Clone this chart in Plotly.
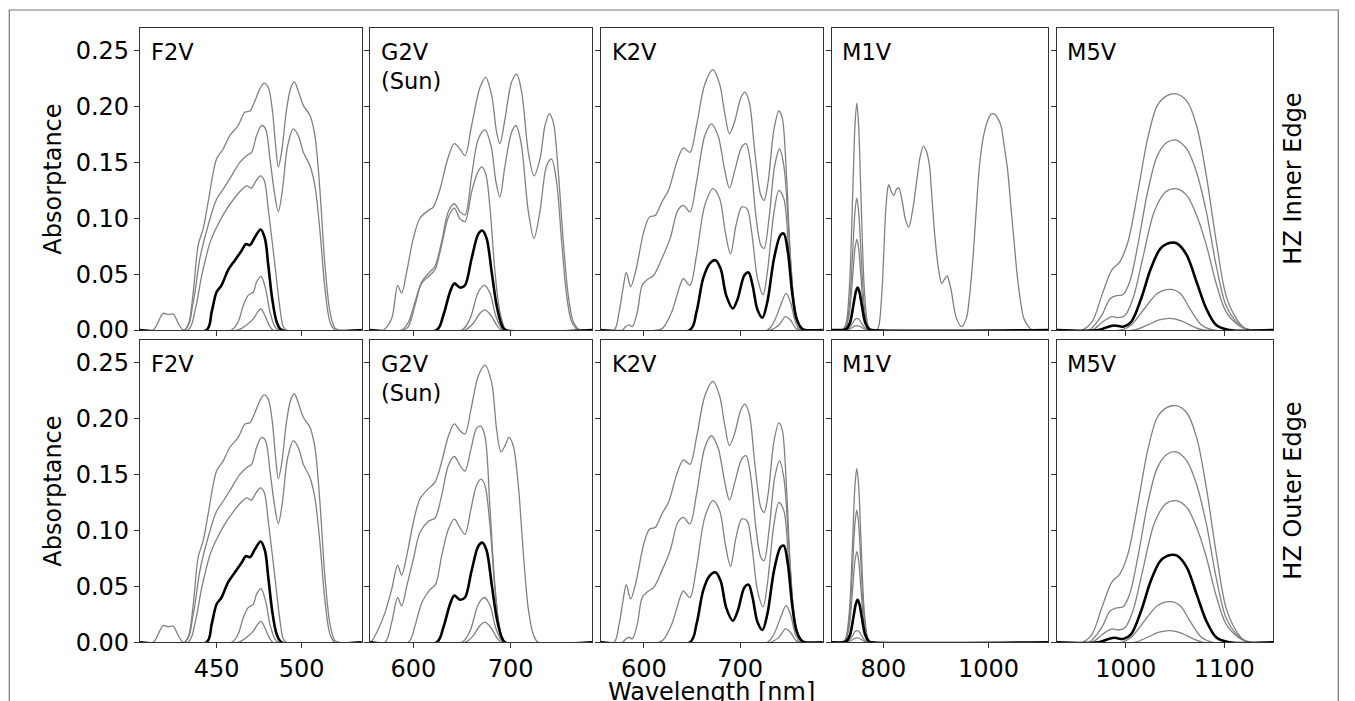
import plotly.graph_objects as go

# ---------------- data (wavelength nm, absorptance) ----------------
F2V_A = [(405,0),(412.7,0),(418.6,0.0149),(421.5,0.0138),(424.5,0.0143),(427.5,0.006),(430.4,0),(433.3,0.0045),
         (436.3,0.034),(439.2,0.076),(442.2,0.091),(445.1,0.115),(450,0.153),(453.9,0.162),(457.8,0.174),
         (462.7,0.183),(466.7,0.195),(469.6,0.196),(472.5,0.205),(475.5,0.216),(478,0.221),(480.4,0.217),
         (482.7,0.198),(484.7,0.165),(486.3,0.146),(488.2,0.159),(491.2,0.198),(493.7,0.217),(495.7,0.222),
         (498,0.214),(501,0.201),(504.9,0.192),(507.8,0.174),(510.8,0.124),(513.7,0.058),(516.7,0.016),
         (519.6,0.0015),(522.5,0),(535.3,0)]
F2V_B = [(405,0),(431.4,0),(436.3,0.025),(440.2,0.064),(445.1,0.094),(450,0.117),(453.9,0.126),(458.8,0.138),
         (463.7,0.150),(467.6,0.156),(470.6,0.159),(473.5,0.174),(476.5,0.183),(478.8,0.180),(481.4,0.153),
         (483.9,0.124),(486.3,0.106),(488.6,0.124),(491.8,0.165),(495.1,0.180),(498,0.174),(501,0.159),
         (504.9,0.147),(507.8,0.129),(510.8,0.088),(513.7,0.037),(516.7,0.007),(519.6,0),(535.3,0)]
F2V_C = [(405,0),(433.3,0),(437.3,0.017),(441.2,0.048),(446.1,0.078),(450,0.092),(455,0.106),(460,0.117),
         (465,0.126),(467.6,0.129),(470.4,0.127),(473,0.133),(475.7,0.138),(478,0.134),(480.4,0.108),
         (484.3,0.058),(487.3,0.019),(489.2,0.003),(491,0),(535.3,0)]
F2V_D = [(405,0),(444.1,0),(447.1,0.016),(450,0.034),(452.9,0.040),(456.9,0.054),(460.8,0.0625),(464.7,0.071),
         (467.3,0.077),(469.6,0.076),(472.5,0.083),(475.9,0.090),(478.4,0.082),(480.4,0.058),(482.7,0.028),
         (485.3,0.0074),(488.2,0),(535.3,0)]
F2V_E = [(405,0),(458.8,0),(462.7,0.0074),(465.7,0.022),(468.6,0.031),(471.6,0.034),(473.5,0.043),(476.1,0.048),
         (478.8,0.037),(481.4,0.016),(484.3,0.003),(486.3,0),(535.3,0)]
F2V_F = [(405,0),(462.7,0),(467.6,0.0045),(471.6,0.010),(474.1,0.016),(476.1,0.019),(478.4,0.013),(481.4,0.003),
         (483.3,0),(535.3,0)]

G2V_IN_A = [(555.5,0),(569.2,0),(577.7,0.010),(583.9,0.040),(588,0.033),(593.2,0.052),(600,0.082),(606.8,0.100),
            (615.4,0.107),(620.5,0.110),(627.4,0.126),(635.3,0.153),(642.1,0.1667),(647.9,0.162),(653.1,0.156),
            (659.9,0.183),(668.5,0.217),(674.3,0.226),(680.5,0.210),(685.6,0.177),(689,0.1667),(694.2,0.189),
            (701,0.222),(706.2,0.229),(711.3,0.213),(718.2,0.159),(724,0.138),(730.1,0.153),(735.3,0.183),
            (739.7,0.1935),(743.8,0.186),(749,0.141),(754.1,0.079),(759.2,0.031),(764.4,0.0074),(771.2,0),(783.9,0)]
G2V_IN_B = [(555.5,0),(588,0),(594.9,0.007),(601.7,0.025),(608.6,0.043),(617.1,0.052),(622.3,0.057),(629.1,0.079),
            (636,0.106),(642.1,0.113),(647.9,0.106),(653.1,0.103),(659.9,0.138),(666.8,0.171),(673.6,0.179),
            (679.8,0.165),(685,0.132),(689,0.119),(694.2,0.147),(701,0.177),(705.5,0.183),(710.6,0.168),
            (718.2,0.106),(724,0.082),(730.1,0.106),(737,0.147),(742.1,0.153),(747.3,0.132),(752.4,0.079),
            (757.5,0.031),(762.7,0.0074),(769.5,0),(783.9,0)]
G2V_IN_C = [(555.5,0),(590,0),(594.9,0.003),(601.7,0.022),(608.6,0.042),(617.1,0.049),(622.3,0.054),(629.1,0.076),
            (636,0.101),(642.1,0.109),(647.9,0.0997),(653.1,0.097),(659.9,0.1235),(666.1,0.141),(670.2,0.146),
            (674.3,0.140),(678.8,0.109),(683.9,0.052),(689,0.016),(694.2,0.0015),(697.6,0),(783.9,0)]
G2V_D = [(555.5,0),(624,0),(630.8,0.013),(637.7,0.034),(642.1,0.0417),(647.9,0.038),(653.1,0.040),(659.9,0.064),
         (666.8,0.086),(670.9,0.089),(675.3,0.082),(680.5,0.052),(685.6,0.022),(690.8,0.0045),(694.2,0),(783.9,0)]
G2V_E = [(555.5,0),(649.7,0),(658.2,0.010),(666.8,0.034),(673,0.040),(678.8,0.033),(684.6,0.013),(690.8,0.0015),
         (694.2,0),(783.9,0)]
G2V_F = [(555.5,0),(653.1,0),(661.6,0.006),(668.5,0.015),(673.6,0.018),(679.8,0.013),(685.6,0.0045),(690.8,0),
         (783.9,0)]
G2V_OUT_A = [(555.5,0),(557.2,0.001),(564,0.0116),(570.9,0.0265),(577.7,0.047),(583.9,0.069),(588,0.060),
             (593.2,0.077),(600,0.107),(606.8,0.128),(615.4,0.137),(622.3,0.143),(629.1,0.161),(636,0.184),
             (642.1,0.195),(647.9,0.189),(653.1,0.186),(659.2,0.208),(666.8,0.238),(673.6,0.2476),(680.5,0.232),
             (685.6,0.190),(690.1,0.170),(694.2,0.1755),(698.3,0.183),(702.7,0.1755),(707.9,0.140),(713,0.080),
             (718.2,0.0295),(723.3,0.007),(728.4,0),(783.9,0)]
G2V_OUT_B = [(555.5,0),(570.9,0),(577.7,0.0176),(583.9,0.040),(588,0.0325),(593.2,0.050),(600,0.074),(606.8,0.098),
             (615.4,0.108),(622.3,0.111),(629.1,0.131),(636,0.158),(642.1,0.166),(647.9,0.158),(653.1,0.153),
             (659.2,0.1725),(664.9,0.191),(669.2,0.193),(673.6,0.184),(678.8,0.119),(683.9,0.050),(689,0.0116),
             (694.2,0),(783.9,0)]
G2V_OUT_C = [(555.5,0),(594.9,0),(601.7,0.0146),(608.6,0.035),(617.1,0.047),(623,0.052),(629.1,0.077),(636,0.101),
             (642.1,0.110),(647.9,0.1025),(653.1,0.0965),(659.2,0.119),(664.9,0.140),(669.5,0.1457),(673.6,0.140),
             (678.8,0.104),(683.9,0.047),(689,0.0116),(694.2,0),(783.9,0)]

K2V_A = [(555.2,0),(569.2,0),(574.3,0.016),(578.4,0.037),(581.8,0.0515),(586.3,0.0387),(591.4,0.052),(600,0.088),
         (605.8,0.101),(612,0.1027),(618.8,0.1146),(625.7,0.125),(634.2,0.150),(641.1,0.163),(647.9,0.159),
         (654.8,0.183),(663.4,0.220),(671.9,0.233),(678.8,0.220),(683.9,0.195),(689,0.1756),(694.2,0.186),
         (701,0.208),(705.1,0.2128),(709.6,0.204),(715.4,0.159),(721.6,0.1205),(725,0.116),(729.1,0.132),
         (735.3,0.180),(740.4,0.196),(743.8,0.190),(748.3,0.138),(752.4,0.064),(757.5,0.0164),(762.7,0.003),
         (769.5,0),(785.9,0)]
K2V_B = [(555.2,0),(577.7,0),(581.2,0.003),(584.6,0.0045),(588,0.003),(593.2,0.016),(598.3,0.040),(603.4,0.045),
         (610.3,0.049),(618.8,0.064),(627.4,0.082),(635.3,0.107),(641.1,0.1116),(647.9,0.1057),(654.8,0.1324),
         (663.4,0.174),(670.2,0.1845),(677.1,0.174),(683.9,0.144),(689,0.127),(694.9,0.144),(701.7,0.1637),
         (706.2,0.1667),(711.3,0.147),(716.4,0.1027),(721.6,0.076),(725,0.073),(730.1,0.0997),(736,0.147),
         (741.1,0.162),(745.5,0.147),(750.7,0.088),(755.8,0.028),(761,0.006),(767.8,0),(785.9,0)]
K2V_C = [(555.2,0),(615.4,0),(620,0.002),(629.1,0.0164),(637.7,0.040),(641.1,0.046),(647.9,0.040),(654.8,0.067),
         (663.4,0.1116),(671.9,0.1265),(678.8,0.1176),(684.6,0.088),(690.1,0.068),(695.9,0.094),(701.7,0.110),
         (707.2,0.1086),(712,0.088),(718.2,0.046),(724,0.0317),(728.4,0.052),(735.3,0.1057),(740.4,0.125),
         (745.5,0.1176),(750.7,0.070),(755.8,0.022),(761,0.0045),(767,0),(785.9,0)]
K2V_D = [(555.2,0),(647.9,0),(654.8,0.0164),(661.6,0.046),(668.5,0.0595),(674.3,0.0625),(679.8,0.055),(685.6,0.031),
         (692.5,0.0193),(697.6,0.028),(704.5,0.049),(708.9,0.0515),(713,0.040),(718.2,0.0179),(723.3,0.011),
         (728.4,0.0253),(735.3,0.064),(742.1,0.085),(745.5,0.0863),(749.7,0.070),(754.1,0.034),(758.6,0.0104),
         (764.4,0.001),(767,0),(785.9,0)]
K2V_E = [(555.2,0),(728.4,0),(735.3,0.0074),(742.1,0.022),(747.9,0.0327),(752.4,0.025),(757.5,0.0074),(762.7,0),
         (785.9,0)]
K2V_F = [(555.2,0),(731.8,0),(740.4,0.0045),(747.3,0.012),(752.4,0.009),(757.5,0.002),(761,0),(785.9,0)]

M1V_IN_A = [(701.7,0),(721,0),(728,0.004),(735,0.035),(742,0.126),(746,0.183),(749.5,0.203),(753,0.183),(757,0.126),
            (764,0.035),(771,0.004),(777,0),(788,0),(791.8,0.0045),(798,0.040),(804.4,0.1057),(808.8,0.128),
            (810.7,0.130),(815,0.124),(820,0.1205),(825,0.126),(829.5,0.127),(836,0.115),(842,0.099),(848.3,0.092),
            (856,0.108),(864,0.135),(870,0.155),(876.5,0.1646),(882,0.160),(887.8,0.147),(893,0.115),(898.4,0.082),
            (905,0.055),(911,0.0417),(916,0.045),(921.6,0.0485),(925.5,0.043),(929.8,0.034),(934.5,0.020),
            (939.2,0.0104),(948.6,0.003),(958,0.0104),(964,0.030),(970.5,0.064),(976.5,0.105),(983,0.147),
            (990,0.172),(998.7,0.1875),(1005,0.193),(1011.3,0.1935),(1017,0.190),(1023.8,0.183),(1030,0.165),
            (1036.4,0.144),(1042.5,0.112),(1048.9,0.079),(1055,0.048),(1061.4,0.025),(1067,0.011),(1074,0.0045),
            (1083.4,0),(1114,0)]
M1V_OUT_A = [(701.7,0),(721,0),(728,0.003),(735,0.026),(742,0.096),(746,0.140),(749.5,0.155),(753,0.140),
             (757,0.096),(764,0.026),(771,0.003),(777,0),(1114,0)]
M1V_B = [(701.7,0),(721,0),(728,0.0024),(735,0.020),(742,0.073),(746,0.106),(749.5,0.118),(753,0.106),(757,0.073),
         (764,0.020),(771,0.0024),(777,0),(1114,0)]
M1V_C = [(701.7,0),(721,0),(728,0.0016),(735,0.0138),(742,0.050),(746,0.073),(749.5,0.081),(753,0.073),(757,0.050),
         (764,0.0138),(771,0.0016),(777,0),(1114,0)]
M1V_D = [(701.7,0),(722.5,0),(729.5,0.0008),(736.5,0.0065),(743.5,0.0236),(747.5,0.034),(751,0.038),(754.5,0.034),
         (758.5,0.0236),(765.5,0.0065),(772.5,0.0008),(778.5,0),(1114,0)]
M1V_E = [(701.7,0),(722,0),(735,0.0018),(742,0.0064),(746,0.0094),(750,0.0104),(754,0.0094),(758,0.0064),
         (765,0.0018),(778,0),(1114,0)]
M1V_F = [(701.7,0),(724,0),(735,0.0007),(742,0.0025),(746,0.0036),(750,0.004),(754,0.0036),(758,0.0025),
         (765,0.0007),(776,0),(1114,0)]

M5V_A = [(930,0),(956,0),(965.9,0.0074),(975.8,0.031),(985.8,0.0536),(994,0.061),(1002.3,0.079),(1012.3,0.1235),
         (1022.2,0.171),(1032.1,0.201),(1042,0.2098),(1051.3,0.2113),(1061.9,0.205),(1071.9,0.183),(1081.8,0.138),
         (1091.7,0.080),(1101.7,0.031),(1111.6,0.011),(1120,0.002),(1127,0),(1149.7,0)]
M5V_B = [(930,0),(963,0),(965.9,0.002),(975.8,0.0134),(984.1,0.028),(990.7,0.0307),(997.4,0.0318),(1004,0.043),
         (1012.3,0.076),(1022.2,0.1235),(1032.1,0.156),(1042,0.168),(1051.3,0.170),(1061.9,0.162),(1071.9,0.141),
         (1081.8,0.1057),(1091.7,0.058),(1101.7,0.022),(1111.6,0.008),(1120,0.002),(1127,0),(1149.7,0)]
M5V_C = [(930,0),(966,0),(976.8,0.0074),(985.8,0.012),(992.4,0.011),(999,0.0128),(1007.3,0.028),(1017.2,0.064),
         (1028.8,0.1057),(1040.4,0.1235),(1051.3,0.1265),(1061.9,0.1205),(1071.9,0.1027),(1081.8,0.076),
         (1091.7,0.0417),(1101.7,0.0164),(1113.2,0.005),(1120,0.0015),(1127,0),(1149.7,0)]
M5V_D = [(930,0),(972.5,0),(982.5,0.003),(989.1,0.004),(997.4,0.003),(1005.6,0.0074),(1015.6,0.028),(1025.5,0.055),
         (1035.4,0.073),(1045.4,0.078),(1052,0.0774),(1061.9,0.067),(1071.9,0.043),(1081.8,0.019),(1091.7,0.0045),
         (1105,0),(1149.7,0)]
M5V_E = [(930,0),(995.7,0),(1005.6,0.0045),(1018.9,0.019),(1032.1,0.0327),(1045.4,0.0363),(1055.3,0.0327),
         (1065.2,0.019),(1076.8,0.0045),(1088.4,0),(1149.7,0)]
M5V_F = [(930,0),(1008.9,0),(1022.2,0.0045),(1033.8,0.009),(1045.4,0.0104),(1057,0.008),(1068.5,0.003),
         (1078.5,0),(1149.7,0)]

STAR_LABELS = ["F2V", "G2V<br>(Sun)", "K2V", "M1V", "M5V"]
ROW_LABELS = ["HZ Inner Edge", "HZ Outer Edge"]
X_RANGES = [[405, 535.3], [555.5, 783.9], [555.2, 785.9], [701.7, 1114], [930, 1149.7]]
X_DTICK = [50, 100, 100, 200, 100]
Y_RANGE = [0, 0.27]

# per panel: (gray curves, black curve)
PANELS = [
    [([F2V_A, F2V_B, F2V_C, F2V_E, F2V_F], F2V_D),
     ([G2V_IN_A, G2V_IN_B, G2V_IN_C, G2V_E, G2V_F], G2V_D),
     ([K2V_A, K2V_B, K2V_C, K2V_E, K2V_F], K2V_D),
     ([M1V_IN_A, M1V_B, M1V_C, M1V_E, M1V_F], M1V_D),
     ([M5V_A, M5V_B, M5V_C, M5V_E, M5V_F], M5V_D)],
    [([F2V_A, F2V_B, F2V_C, F2V_E, F2V_F], F2V_D),
     ([G2V_OUT_A, G2V_OUT_B, G2V_OUT_C, G2V_E, G2V_F], G2V_D),
     ([K2V_A, K2V_B, K2V_C, K2V_E, K2V_F], K2V_D),
     ([M1V_OUT_A, M1V_B, M1V_C, M1V_E, M1V_F], M1V_D),
     ([M5V_A, M5V_B, M5V_C, M5V_E, M5V_F], M5V_D)],
]

# ---------------- layout geometry (pixels) ----------------
W, H = 1355, 701
COL_PX = [(140, 361.7), (370, 592.3), (600.7, 822.7), (831.7, 1048.3), (1056.7, 1273.3)]
ROW_PX = [(28.3, 330), (340, 642.3)]


def px(xs):
    return xs / W


def py(ys):
    return 1 - ys / H


FONT = "DejaVu Sans"
FS = 24
FS_LABEL = 22.5
AXCOL = "#333333"

fig = go.Figure()
layout = dict(
    width=W, height=H, autosize=False, margin=dict(l=0, r=0, t=0, b=0, pad=0, autoexpand=False),
    paper_bgcolor="white", plot_bgcolor="white", showlegend=False,
    font=dict(family=FONT, size=FS, color="black"),
)
annotations = []

for r in range(2):
    for c in range(5):
        n = r * 5 + c + 1
        xa = "x" if n == 1 else f"x{n}"
        ya = "y" if n == 1 else f"y{n}"
        grays, black = PANELS[r][c]
        for curve in grays:
            fig.add_trace(go.Scatter(
                x=[p[0] for p in curve], y=[p[1] for p in curve], mode="lines",
                line=dict(color="#808080", width=1.3, shape="spline", smoothing=0.9),
                xaxis=xa, yaxis=ya, hoverinfo="skip"))
        fig.add_trace(go.Scatter(
            x=[p[0] for p in black], y=[p[1] for p in black], mode="lines",
            line=dict(color="black", width=2.6, shape="spline", smoothing=0.9),
            xaxis=xa, yaxis=ya, hoverinfo="skip"))

        x0, x1 = COL_PX[c]
        y0, y1 = ROW_PX[r]
        layout[f"xaxis{n}"] = dict(
            domain=[px(x0), px(x1)], anchor=ya, range=X_RANGES[c], automargin=False,
            tick0=0, dtick=X_DTICK[c], ticks="outside", ticklen=5, tickwidth=1.2, tickcolor=AXCOL,
            showticklabels=(r == 1), showgrid=False, zeroline=False,
            showline=True, linecolor=AXCOL, linewidth=1.2, mirror=True,
            tickfont=dict(family=FONT, size=FS, color="black"), fixedrange=True)
        layout[f"yaxis{n}"] = dict(
            domain=[py(y1), py(y0)], anchor=xa, range=Y_RANGE, automargin=False,
            tick0=0, dtick=0.05, tickformat=".2f", ticks="outside", ticklen=5, tickwidth=1.2,
            tickcolor=AXCOL, showticklabels=(c == 0), showgrid=False, zeroline=False,
            showline=True, linecolor=AXCOL, linewidth=1.2, mirror=True,
            tickfont=dict(family=FONT, size=FS, color="black"), fixedrange=True)
        annotations.append(dict(
            text=STAR_LABELS[c], xref=f"{xa} domain", yref=f"{ya} domain",
            x=0.045, y=0.968, xanchor="left", yanchor="top", align="left",
            showarrow=False, borderpad=0, font=dict(family=FONT, size=FS_LABEL, color="black")))

    ymid = py((ROW_PX[r][0] + ROW_PX[r][1]) / 2)
    annotations.append(dict(
        text="Absorptance", xref="paper", yref="paper", x=px(53.5), y=ymid,
        xanchor="center", yanchor="middle", textangle=-90, showarrow=False,
        font=dict(family=FONT, size=FS, color="black")))
    annotations.append(dict(
        text=ROW_LABELS[r], xref="paper", yref="paper", x=px(1293.5), y=ymid,
        xanchor="center", yanchor="middle", textangle=-90, showarrow=False,
        font=dict(family=FONT, size=FS, color="black")))

annotations.append(dict(
    text="Wavelength [nm]", xref="paper", yref="paper", x=px(711), y=py(677),
    xanchor="center", yanchor="top", showarrow=False, borderpad=0,
    font=dict(family=FONT, size=FS, color="black")))

layout["annotations"] = annotations
layout["shapes"] = [dict(
    type="rect", xref="paper", yref="paper", x0=px(9.3), x1=px(1338.3), y0=-0.2, y1=py(10),
    line=dict(color="#777777", width=1.2), fillcolor="rgba(0,0,0,0)", layer="below")]

fig.update_layout(**layout)
fig.write_html(
    "out.html",
    config={"displayModeBar": False},
    post_script="document.body.style.margin='0px';document.documentElement.style.overflow='hidden';",
)
